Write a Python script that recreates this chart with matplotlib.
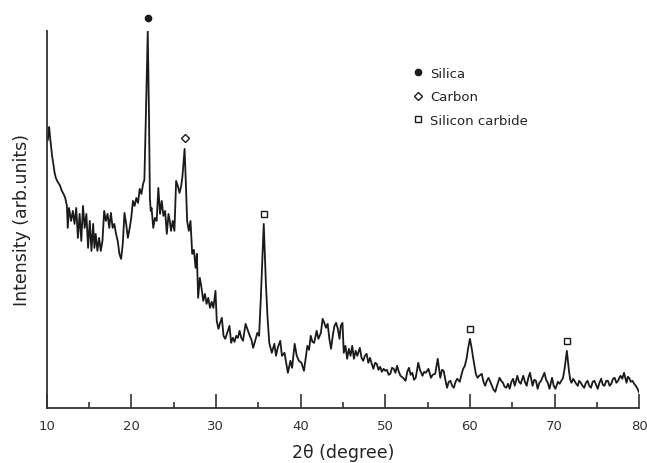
import numpy as np
import matplotlib
matplotlib.use("Agg")
from matplotlib import pyplot as plt
from matplotlib.lines import Line2D
from matplotlib.ticker import MultipleLocator
import matplotlib.transforms as mtransforms

# XRD pattern (2theta in degree, intensity in arb. units)
two_theta = [
    10.15, 10.3, 10.4, 10.55, 10.65, 10.8, 10.95, 11.1, 11.25, 11.4, 11.6, 11.8, 12.0, 12.2, 12.4,
    12.5, 12.65, 12.9, 13.1, 13.3, 13.5, 13.7, 13.9, 14.1, 14.3, 14.5, 14.7, 14.9, 15.1, 15.3,
    15.5, 15.65, 15.8, 16.0, 16.2, 16.4, 16.6, 16.8, 17.0, 17.2, 17.4, 17.6, 17.8, 18.0, 18.2,
    18.4, 18.6, 18.8, 19.0, 19.2, 19.4, 19.6, 19.8, 20.0, 20.2, 20.4, 20.6, 20.8, 21.0, 21.2,
    21.4, 21.55, 21.75, 21.95, 22.1, 22.2, 22.3, 22.4, 22.6, 22.8, 23.0, 23.2, 23.4, 23.6, 23.8,
    24.0, 24.2, 24.4, 24.55, 24.7, 24.9, 25.1, 25.3, 25.5, 25.7, 25.9, 26.05, 26.3, 26.45, 26.6,
    26.8, 27.0, 27.2, 27.4, 27.6, 27.75, 27.9, 28.1, 28.3, 28.5, 28.7, 28.9, 29.1, 29.3, 29.5,
    29.7, 29.95, 30.1, 30.3, 30.5, 30.7, 30.9, 31.1, 31.3, 31.6, 31.8, 32.0, 32.2, 32.4, 32.6,
    32.8, 33.0, 33.2, 33.5, 33.75, 34.0, 34.2, 34.4, 34.6, 34.9, 35.1, 35.3, 35.65, 35.9, 36.1,
    36.3, 36.6, 36.9, 37.1, 37.3, 37.6, 37.8, 38.1, 38.5, 38.8, 39.0, 39.3, 39.55, 39.8, 40.1,
    40.4, 40.8, 41.0, 41.2, 41.4, 41.6, 41.9, 42.1, 42.4, 42.6, 42.8, 43.0, 43.2, 43.4, 43.6,
    43.8, 44.0, 44.2, 44.4, 44.6, 44.75, 44.95, 45.1, 45.3, 45.5, 45.7, 45.9, 46.1, 46.3, 46.5,
    46.7, 47.0, 47.2, 47.4, 47.6, 47.8, 48.0, 48.2, 48.4, 48.6, 48.8, 49.0, 49.2, 49.4, 49.6,
    49.8, 50.0, 50.2, 50.4, 50.6, 50.8, 51.0, 51.2, 51.4, 51.6, 51.8, 52.1, 52.4, 52.6, 52.8,
    53.0, 53.2, 53.4, 53.6, 53.9, 54.1, 54.4, 54.6, 54.8, 55.1, 55.4, 55.6, 55.9, 56.2, 56.5,
    56.7, 56.9, 57.1, 57.3, 57.5, 57.7, 57.9, 58.1, 58.3, 58.5, 58.8, 59.0, 59.2, 59.4, 59.6,
    59.8, 60.0, 60.2, 60.4, 60.7, 60.9, 61.1, 61.4, 61.6, 61.8, 62.0, 62.2, 62.4, 62.6, 62.8,
    63.0, 63.2, 63.5, 63.7, 63.9, 64.1, 64.3, 64.5, 64.7, 64.9, 65.1, 65.3, 65.6, 65.8, 66.0,
    66.3, 66.5, 66.7, 66.9, 67.1, 67.4, 67.6, 67.8, 68.0, 68.2, 68.4, 68.6, 68.8, 69.0, 69.2,
    69.4, 69.7, 69.9, 70.1, 70.4, 70.6, 70.8, 71.0, 71.2, 71.45, 71.7, 71.85, 72.0, 72.2, 72.35,
    72.55, 72.75, 72.9, 73.1, 73.3, 73.5, 73.7, 73.9, 74.1, 74.3, 74.5, 74.7, 74.9, 75.1, 75.3,
    75.5, 75.7, 75.9, 76.1, 76.3, 76.5, 76.7, 76.9, 77.1, 77.3, 77.5, 77.7, 77.8, 78.0, 78.2,
    78.35, 78.5, 78.65, 78.8, 79.0, 79.2, 79.4, 79.6, 79.8, 80.0,
]
intensity = [
    268, 281, 272, 260, 252, 244, 235, 230, 227, 225, 222, 217, 214, 210, 202,
    180, 200, 187, 197, 184, 200, 170, 194, 167, 202, 180, 194, 160, 187, 157,
    184, 160, 174, 157, 170, 157, 167, 197, 187, 194, 180, 195, 180, 184, 174,
    167, 154, 149, 164, 195, 184, 170, 179, 190, 207, 202, 210, 205, 219, 214,
    224, 228, 300, 377, 290, 210, 197, 200, 180, 190, 187, 220, 194, 207, 192,
    197, 174, 194, 187, 177, 187, 177, 227, 222, 215, 222, 232, 259, 225, 187,
    177, 187, 154, 158, 140, 154, 110, 130, 120, 107, 114, 104, 110, 100, 106,
    100, 117, 87, 79, 85, 90, 72, 69, 74, 82, 65, 70, 66, 72, 70,
    77, 70, 67, 84, 78, 72, 68, 60, 66, 75, 72, 109, 184, 125, 90,
    65, 55, 64, 52, 60, 67, 52, 55, 35, 47, 40, 64, 52, 47, 45,
    37, 62, 58, 72, 66, 65, 77, 69, 75, 89, 85, 80, 84, 69, 59,
    72, 82, 85, 79, 69, 82, 85, 55, 62, 49, 59, 52, 62, 49, 57,
    52, 60, 50, 47, 52, 54, 45, 50, 44, 39, 45, 44, 38, 41, 36,
    39, 37, 38, 33, 34, 40, 39, 35, 42, 36, 32, 30, 27, 36, 40,
    33, 35, 28, 30, 45, 38, 32, 36, 35, 39, 30, 33, 34, 49, 30,
    38, 37, 28, 20, 26, 27, 22, 20, 26, 29, 26, 33, 39, 42, 49,
    60, 69, 60, 49, 34, 30, 32, 34, 26, 22, 27, 30, 26, 22, 18,
    16, 22, 30, 27, 25, 21, 20, 24, 19, 26, 29, 22, 32, 26, 24,
    32, 26, 22, 30, 35, 22, 28, 27, 19, 25, 27, 31, 35, 28, 25,
    19, 30, 22, 19, 26, 24, 27, 30, 40, 57, 37, 28, 25, 29, 27,
    24, 22, 27, 25, 22, 20, 25, 27, 22, 20, 26, 27, 23, 19, 25,
    29, 23, 22, 27, 27, 22, 24, 29, 30, 25, 27, 31, 32, 29, 35,
    30, 25, 31, 30, 26, 27, 24, 22, 19, 15,
]

# peak positions of each phase
silica_peaks = [21.95]
carbon_peaks = [26.3]
sic_peaks = [35.65, 60.0, 71.45]

line_color = "#1a1a1a"

fig = plt.figure(figsize=(6.47, 4.64), dpi=100)
ax = fig.add_axes([0.072, 0.119, 0.916, 0.812])

ax.plot(two_theta, intensity, color=line_color, lw=1.3)

# phase markers above the peaks
marker_styles = [
    (silica_peaks, "o", line_color, 9.5),
    (carbon_peaks, "D", "none", 8.0),
    (sic_peaks, "s", "none", 7.0),
]
for peaks, marker, face, offset in marker_styles:
    trans = mtransforms.offset_copy(ax.transData, fig=fig, y=offset, units="points")
    ax.plot(peaks, np.interp(peaks, two_theta, intensity), ls="none",
            marker=marker, ms=4.5 if marker != "D" else 4,
            mfc=face, mec=line_color, mew=1.0, transform=trans, clip_on=False)

handles = [
    Line2D([], [], ls="none", marker="o", ms=4.5, mfc=line_color, mec=line_color),
    Line2D([], [], ls="none", marker="D", ms=4, mfc="none", mec=line_color),
    Line2D([], [], ls="none", marker="s", ms=4.5, mfc="none", mec=line_color),
]
ax.legend(handles, ["Silica", "Carbon", "Silicon carbide"], frameon=False,
          loc="upper left", bbox_to_anchor=(0.60, 0.937), fontsize=9.5,
          handlelength=0.6, handletextpad=0.6, labelspacing=0.8,
          labelcolor="#222222")

ax.set_xlim(10, 80)
ax.set_ylim(0, 377)
ax.xaxis.set_major_locator(MultipleLocator(10))
ax.xaxis.set_minor_locator(MultipleLocator(5))
ax.tick_params(axis="x", which="major", direction="in", length=10, width=1.2,
               labelsize=9.5, pad=8, colors="#333333")
ax.tick_params(axis="x", which="minor", direction="in", length=4, width=1.2,
               colors="#333333")
ax.set_yticks([])

for side in ["top", "right"]:
    ax.spines[side].set_visible(False)
for side in ["left", "bottom"]:
    ax.spines[side].set_linewidth(1.3)
    ax.spines[side].set_color("#333333")

ax.set_xlabel("2θ (degree)", fontsize=12.5, color="#222222", labelpad=8)
ax.set_ylabel("Intensity (arb.units)", fontsize=12.5, color="#222222", labelpad=11)

fig.savefig("out.png", dpi=100)
